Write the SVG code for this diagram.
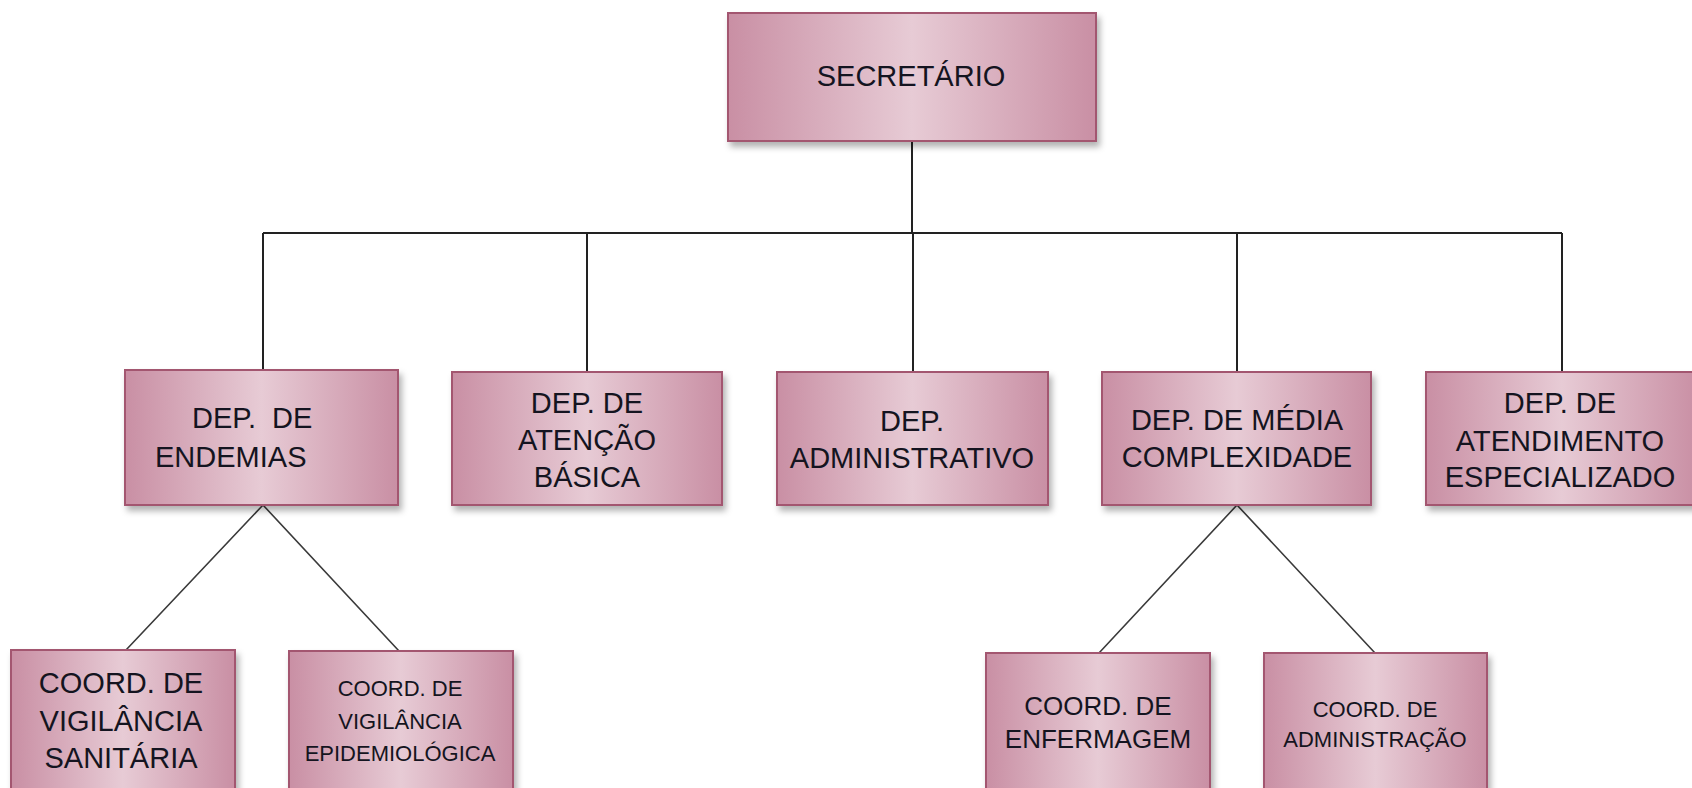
<svg xmlns="http://www.w3.org/2000/svg" width="1692" height="788" viewBox="0 0 1692 788">
  <defs>
    <linearGradient id="boxFill" x1="0" y1="0" x2="1" y2="0">
      <stop offset="0" stop-color="#c98fa4"/>
      <stop offset="0.5" stop-color="#e7cbd5"/>
      <stop offset="1" stop-color="#c98fa4"/>
    </linearGradient>
    <filter id="shadow" x="-10%" y="-10%" width="130%" height="140%">
      <feDropShadow dx="3" dy="5" stdDeviation="3" flood-color="#000" flood-opacity="0.3"/>
    </filter>
  </defs>
  <style>
    .box { fill: url(#boxFill); stroke: #a3566f; stroke-width: 2; filter: url(#shadow); }
    .t { font-family: "Liberation Sans", Arial, sans-serif; font-size: 29px; fill: #141420; text-anchor: middle; }
    .ts { font-size: 22px; }
    .tm { font-size: 26px; }
    .ortho { fill: none; stroke: #222; stroke-width: 2; }
    .diag { fill: none; stroke: #3a3a3a; stroke-width: 1.6; }
  </style>
  <rect width="1692" height="788" fill="#ffffff"/>

  <g id="connectors">
    <path class="ortho" d="M912 141 V233 M263 233 H1562 M263 233 V370 M587 233 V372 M913 233 V372 M1237 233 V372 M1562 233 V372"/>
    <path class="diag" d="M263 505 L126 650 M263 505 L399 651"/>
    <path class="diag" d="M1237 505 L1099 653 M1237 505 L1375 653"/>
  </g>

  <g id="secretario">
    <rect class="box" x="728" y="13" width="368" height="128"/>
    <text class="t" x="911" y="86">SECRETÁRIO</text>
  </g>

  <g id="dep-endemias">
    <rect class="box" x="125" y="370" width="273" height="135"/>
    <text class="t" x="192" y="428" text-anchor="start" style="text-anchor:start" xml:space="preserve">DEP.  DE</text>
    <text class="t" x="155" y="467" style="text-anchor:start">ENDEMIAS</text>
  </g>

  <g id="dep-atencao">
    <rect class="box" x="452" y="372" width="270" height="133"/>
    <text class="t" x="587" y="413">DEP. DE</text>
    <text class="t" x="587" y="450">ATENÇÃO</text>
    <text class="t" x="587" y="487">BÁSICA</text>
  </g>

  <g id="dep-administrativo">
    <rect class="box" x="777" y="372" width="271" height="133"/>
    <text class="t" x="912" y="431">DEP.</text>
    <text class="t" x="912" y="468">ADMINISTRATIVO</text>
  </g>

  <g id="dep-media">
    <rect class="box" x="1102" y="372" width="269" height="133"/>
    <text class="t" x="1237" y="430">DEP. DE MÉDIA</text>
    <text class="t" x="1237" y="467">COMPLEXIDADE</text>
  </g>

  <g id="dep-atendimento">
    <rect class="box" x="1426" y="372" width="272" height="133"/>
    <text class="t" x="1560" y="413">DEP. DE</text>
    <text class="t" x="1560" y="451">ATENDIMENTO</text>
    <text class="t" x="1560" y="487">ESPECIALIZADO</text>
  </g>

  <g id="coord-sanitaria">
    <rect class="box" x="11" y="650" width="224" height="150"/>
    <text class="t" x="121" y="693">COORD. DE</text>
    <text class="t" x="121" y="731">VIGILÂNCIA</text>
    <text class="t" x="121" y="768">SANITÁRIA</text>
  </g>

  <g id="coord-epidemiologica">
    <rect class="box" x="289" y="651" width="224" height="150"/>
    <text class="t ts" x="400" y="696">COORD. DE</text>
    <text class="t ts" x="400" y="729">VIGILÂNCIA</text>
    <text class="t ts" x="400" y="761">EPIDEMIOLÓGICA</text>
  </g>

  <g id="coord-enfermagem">
    <rect class="box" x="986" y="653" width="224" height="150"/>
    <text class="t tm" x="1098" y="715">COORD. DE</text>
    <text class="t tm" x="1098" y="748">ENFERMAGEM</text>
  </g>

  <g id="coord-administracao">
    <rect class="box" x="1264" y="653" width="223" height="150"/>
    <text class="t ts" x="1375" y="717">COORD. DE</text>
    <text class="t ts" x="1375" y="747">ADMINISTRAÇÃO</text>
  </g>
</svg>
